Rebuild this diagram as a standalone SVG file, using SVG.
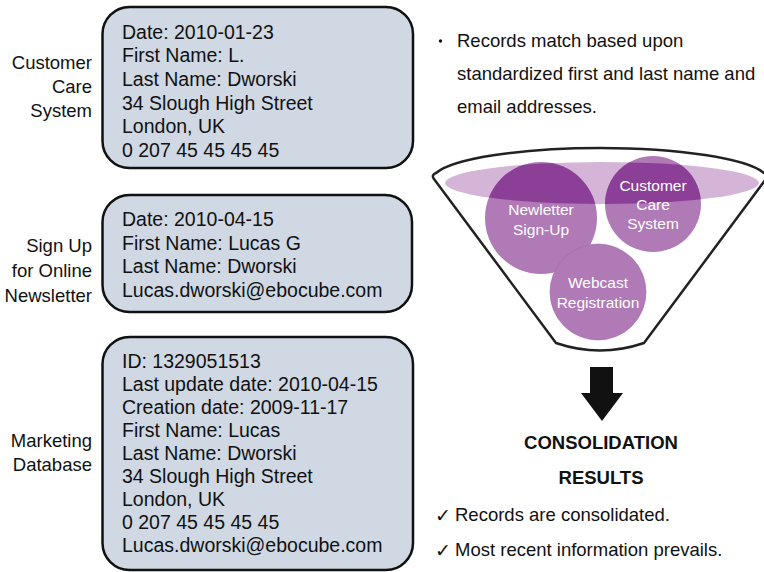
<svg xmlns="http://www.w3.org/2000/svg" width="764" height="572" viewBox="0 0 764 572">
<defs>
<style>
.box{fill:#cfd8e3;stroke:#111;stroke-width:2.5}
.bt{font-family:"Liberation Sans",Arial,sans-serif;font-size:19.5px;fill:#111}
.lb{font-family:"Liberation Sans",Arial,sans-serif;font-size:18.5px;fill:#111;text-anchor:end}
.rt{font-family:"Liberation Sans",Arial,sans-serif;font-size:18.5px;fill:#111}
.ct{font-family:"Liberation Sans",Arial,sans-serif;font-size:15.5px;fill:#fff;text-anchor:middle}
.hd{font-family:"Liberation Sans",Arial,sans-serif;font-size:18.5px;font-weight:bold;fill:#111;text-anchor:middle}
.ck{font-family:"DejaVu Sans",sans-serif;font-size:19px;font-weight:bold;fill:#111}
.circ{fill:#b07ab6}
.dark{fill:#8b3f97}
</style>
<clipPath id="ellclip"><ellipse cx="602" cy="183" rx="157" ry="21"/></clipPath>
</defs>

<g id="customer-care">
<rect class="box" x="102.5" y="7" width="310.5" height="161" rx="27"/>
<text class="bt" x="122" y="38.5">Date: 2010-01-23</text>
<text class="bt" x="122" y="62.2">First Name: L.</text>
<text class="bt" x="122" y="85.9">Last Name: Dworski</text>
<text class="bt" x="122" y="109.6">34 Slough High Street</text>
<text class="bt" x="122" y="133.3">London, UK</text>
<text class="bt" x="122" y="157">0 207 45 45 45 45</text>
<text class="lb" x="92" y="69">Customer</text>
<text class="lb" x="92" y="93">Care</text>
<text class="lb" x="92" y="117">System</text>
</g>

<g id="newsletter">
<rect class="box" x="102.5" y="195" width="309.5" height="117" rx="27"/>
<text class="bt" x="122" y="226">Date: 2010-04-15</text>
<text class="bt" x="122" y="249.5">First Name: Lucas G</text>
<text class="bt" x="122" y="273">Last Name: Dworski</text>
<text class="bt" x="122" y="296.5">Lucas.dworski@ebocube.com</text>
<text class="lb" x="92" y="252">Sign Up</text>
<text class="lb" x="92" y="277">for Online</text>
<text class="lb" x="92" y="302">Newsletter</text>
</g>

<g id="marketing">
<rect class="box" x="102.5" y="337" width="310.5" height="233" rx="27"/>
<text class="bt" x="122" y="368.3">ID: 1329051513</text>
<text class="bt" x="122" y="391.2">Last update date: 2010-04-15</text>
<text class="bt" x="122" y="414.1">Creation date: 2009-11-17</text>
<text class="bt" x="122" y="437">First Name: Lucas</text>
<text class="bt" x="122" y="459.9">Last Name: Dworski</text>
<text class="bt" x="122" y="482.8">34 Slough High Street</text>
<text class="bt" x="122" y="505.7">London, UK</text>
<text class="bt" x="122" y="528.6">0 207 45 45 45 45</text>
<text class="bt" x="122" y="551.5">Lucas.dworski@ebocube.com</text>
<text class="lb" x="92" y="447">Marketing</text>
<text class="lb" x="92" y="471">Database</text>
</g>

<g id="note">
<circle cx="440.5" cy="41" r="1.7" fill="#111"/>
<text class="rt" x="457" y="47">Records match based upon</text>
<text class="rt" x="457" y="80">standardized first and last name and</text>
<text class="rt" x="457" y="113">email addresses.</text>
</g>

<g id="funnel">
<path d="M 434 179 L 556 343 Q 600 358 644 343 L 766 179 Q 769 175 764 173 A 168 32 0 0 0 436 173 Q 431 175 434 179 Z" fill="#fff" stroke="#222" stroke-width="2.5" stroke-linejoin="round"/>
<ellipse cx="602" cy="183" rx="157" ry="21" fill="#d5b5d7"/>
</g>

<g id="newsletter-signup">
<circle class="circ" cx="541" cy="218" r="56"/>
<circle class="dark" cx="541" cy="218" r="56" clip-path="url(#ellclip)"/>
<text class="ct" x="541" y="215">Newletter</text>
<text class="ct" x="541" y="235">Sign-Up</text>
</g>

<g id="customer-care-system">
<circle class="circ" cx="653" cy="204" r="48"/>
<circle class="dark" cx="653" cy="204" r="48" clip-path="url(#ellclip)"/>
<text class="ct" x="653" y="191">Customer</text>
<text class="ct" x="653" y="210">Care</text>
<text class="ct" x="653" y="229">System</text>
</g>

<g id="webcast">
<circle class="circ" cx="598" cy="292" r="48" stroke="#a26aa9" stroke-width="0.6"/>
<text class="ct" x="598" y="288">Webcast</text>
<text class="ct" x="598" y="308">Registration</text>
</g>

<g id="connectors">
<polygon points="590,367 613,367 613,393 623,393 602,421 581,393 590,393" fill="#111"/>
</g>

<g id="results">
<text class="hd" x="601" y="449">CONSOLIDATION</text>
<text class="hd" x="601" y="484">RESULTS</text>
<text class="ck" x="435" y="522">✓</text>
<text class="rt" x="455" y="521">Records are consolidated.</text>
<text class="ck" x="435" y="557">✓</text>
<text class="rt" x="455" y="556">Most recent information prevails.</text>
</g>
</svg>
